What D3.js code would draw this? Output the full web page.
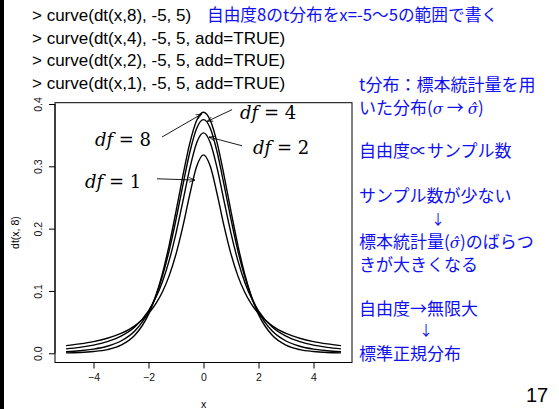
<!DOCTYPE html>
<html>
<head>
<meta charset="utf-8">
<script src="https://cdn.jsdelivr.net/npm/d3@7"></script>
<style>
  body { margin: 0; background: #fff; }
  svg { display: block; }
</style>
</head>
<body>
<svg id="slide" width="559" height="409"></svg>
<script>
// x grid of the curves
const xs = [-5, -4.5, -4, -3.5, -3, -2.5, -2, -1.75, -1.5, -1.25, -1, -0.75, -0.5, -0.25, 0,
  0.25, 0.5, 0.75, 1, 1.25, 1.5, 1.75, 2, 2.5, 3, 3.5, 4, 4.5, 5]

// density values, one list per curve
const df8 = [0.0007, 0.0013, 0.0028, 0.0059, 0.0130, 0.0288, 0.0624, 0.0899, 0.1268, 0.1733, 0.2276, 0.2848, 0.3367, 0.3734, 0.3867,
  0.3734, 0.3367, 0.2848, 0.2276, 0.1733, 0.1268, 0.0899, 0.0624, 0.0288, 0.0130, 0.0059, 0.0028, 0.0013, 0.0007]
const df4 = [0.0027, 0.0041, 0.0067, 0.0113, 0.0197, 0.0357, 0.0663, 0.0905, 0.1229, 0.1644, 0.2147, 0.2699, 0.3222, 0.3608, 0.3750,
  0.3608, 0.3222, 0.2699, 0.2147, 0.1644, 0.1229, 0.0905, 0.0663, 0.0357, 0.0197, 0.0113, 0.0067, 0.0041, 0.0027]
const df2 = [0.0071, 0.0095, 0.0131, 0.0186, 0.0274, 0.0422, 0.0680, 0.0878, 0.1141, 0.1487, 0.1925, 0.2438, 0.2963, 0.3376, 0.3536,
  0.3376, 0.2963, 0.2438, 0.1925, 0.1487, 0.1141, 0.0878, 0.0680, 0.0422, 0.0274, 0.0186, 0.0131, 0.0095, 0.0071]
const df1 = [0.0122, 0.0150, 0.0187, 0.0241, 0.0318, 0.0439, 0.0637, 0.0784, 0.0979, 0.1242, 0.1592, 0.2037, 0.2546, 0.2996, 0.3183,
  0.2996, 0.2546, 0.2037, 0.1592, 0.1242, 0.0979, 0.0784, 0.0637, 0.0439, 0.0318, 0.0241, 0.0187, 0.0150, 0.0122]
const series = [df8, df4, df2, df1]

const xTicks = [-4, -2, 0, 2, 4]
const yTicks = [0, 0.1, 0.2, 0.3, 0.4]

// curve labels: [label number, label x, label y, arrow from x,y, arrow to x,y] in data units
const labels = [
  ["8", -3.95, 0.333, -1.51, 0.347, -0.06, 0.384],
  ["4", 1.33, 0.376, 1.04, 0.391, 0.13, 0.372],
  ["2", 1.80, 0.320, 1.40, 0.333, 0.20, 0.347],
  ["1", -4.31, 0.265, -1.69, 0.280, -0.31, 0.278]
]

const commands = [
  "> curve(dt(x,8), -5, 5)",
  "> curve(dt(x,4), -5, 5, add=TRUE)",
  "> curve(dt(x,2), -5, 5, add=TRUE)",
  "> curve(dt(x,1), -5, 5, add=TRUE)"
]

const svg = d3.select("#slide")
const blue = "#1010f0"

// black edge on the left of the slide
svg.append("rect").attr("x", 0).attr("y", 0).attr("width", 4).attr("height", 409).attr("fill", "#000")

// R commands
svg.selectAll(".cmd")
  .data(commands)
  .enter().append("text")
  .attr("class", "cmd")
  .attr("x", 32)
  .attr("y", (d, i) => 21 + i * 22.7)
  .style("font-family", "'Liberation Sans', Arial, sans-serif")
  .style("font-size", "17px")
  .attr("fill", "#000")
  .text(d => d)

svg.append("text")
  .attr("x", 207).attr("y", 21)
  .style("font-family", "'Noto Sans CJK JP', sans-serif")
  .style("font-size", "16.7px")
  .attr("fill", blue)
  .text("自由度8のt分布をx=-5～5の範囲で書く")

const x = d3.scaleLinear().domain([-5.4, 5.4]).range([55, 352])
const y = d3.scaleLinear().domain([-0.0148, 0.4021]).range([362.5, 102.7])

const plot = svg.append("g")

plot.append("rect")
  .attr("x", x(-5.4)).attr("y", y(0.4021))
  .attr("width", x(5.4) - x(-5.4)).attr("height", y(-0.0148) - y(0.4021))
  .attr("fill", "none").attr("stroke", "#000").attr("stroke-width", 1)

const xAxis = plot.append("g")
  .attr("transform", `translate(0,${y(-0.0148)})`)
  .call(d3.axisBottom(x).tickValues(xTicks).tickSize(6).tickPadding(5).tickFormat(d3.format("d")))
const yAxis = plot.append("g")
  .attr("transform", `translate(${x(-5.4)},0)`)
  .call(d3.axisLeft(y).tickValues(yTicks).tickSize(6).tickPadding(5).tickFormat(d3.format(".1f")))

;[xAxis, yAxis].forEach(a => {
  a.select(".domain").attr("stroke", "#000")
  a.selectAll(".tick line").attr("stroke", "#000")
  a.selectAll("text")
    .style("font-family", "'Liberation Sans', Arial, sans-serif")
    .style("font-size", "10.5px")
    .attr("fill", "#111")
})
// R style: domain only between first and last tick
xAxis.select(".domain").attr("d", `M${x(-4)},0H${x(4)}`)
yAxis.select(".domain").attr("d", `M0,${y(0)}V${y(0.4)}`)
// rotated y tick labels
yAxis.selectAll(".tick text")
  .attr("x", null).attr("dy", null)
  .attr("text-anchor", "middle")
  .attr("transform", "translate(-13,0) rotate(-90)")

plot.append("text")
  .attr("x", x(0)).attr("y", 407.5)
  .attr("text-anchor", "middle")
  .style("font-family", "'Liberation Sans', Arial, sans-serif")
  .style("font-size", "10.5px")
  .text("x")
plot.append("text")
  .attr("transform", `translate(18.5,${(y(-0.0148) + y(0.4021)) / 2}) rotate(-90)`)
  .attr("text-anchor", "middle")
  .style("font-family", "'Liberation Sans', Arial, sans-serif")
  .style("font-size", "10.5px")
  .text("dt(x, 8)")

// curves
const line = d3.line()
  .x((d, i) => x(xs[i]))
  .y(d => y(d))
  .curve(d3.curveMonotoneX)

plot.selectAll(".curve")
  .data(series)
  .enter().append("path")
  .attr("class", "curve")
  .attr("d", line)
  .attr("fill", "none")
  .attr("stroke", "#000")
  .attr("stroke-width", 1.4)

// arrowhead
svg.append("defs").append("marker")
  .attr("id", "arr")
  .attr("viewBox", "0 0 10 10")
  .attr("refX", 10).attr("refY", 5)
  .attr("markerWidth", 6).attr("markerHeight", 6)
  .attr("markerUnits", "userSpaceOnUse")
  .attr("orient", "auto")
  .append("path").attr("d", "M0,1L10,5L0,9").attr("fill", "none").attr("stroke", "#000").attr("stroke-width", 1.2)

plot.selectAll(".arrow")
  .data(labels)
  .enter().append("line")
  .attr("class", "arrow")
  .attr("x1", d => x(d[3])).attr("y1", d => y(d[4]))
  .attr("x2", d => x(d[5])).attr("y2", d => y(d[6]))
  .attr("stroke", "#000").attr("stroke-width", 0.9)
  .attr("marker-end", "url(#arr)")

const lab = plot.selectAll(".dflab")
  .data(labels)
  .enter().append("text")
  .attr("class", "dflab")
  .attr("x", d => x(d[1])).attr("y", d => y(d[2]))
  .style("font-family", "'DejaVu Serif', serif")
  .style("font-size", "18px")
  .attr("xml:space", "preserve")
lab.append("tspan").style("font-style", "italic").text("df")
lab.append("tspan").text(d => " = " + d[0])

// notes on the right
const notes = [
  { t: "t分布：標本統計量を用", y: 90.5 },
  { t: "いた分布(|σ| → |σ̂|)", y: 113.5 },
  { t: "自由度∝サンプル数", y: 156.5 },
  { t: "サンプル数が少ない", y: 201.5 },
  { t: "↓", y: 224, cx: 438 },
  { t: "標本統計量(|σ̂|)のばらつ", y: 248 },
  { t: "きが大きくなる", y: 271 },
  { t: "自由度→無限大", y: 314.5 },
  { t: "↓", y: 335, cx: 426 },
  { t: "標準正規分布", y: 360 }
]

const note = svg.selectAll(".note")
  .data(notes)
  .enter().append("text")
  .attr("class", "note")
  .attr("x", d => d.cx || 359)
  .attr("y", d => d.y)
  .attr("text-anchor", d => d.cx ? "middle" : "start")
  .style("font-family", "'Noto Sans CJK JP', sans-serif")
  .style("font-size", d => d.cx ? "14px" : "17px")
  .attr("fill", blue)

note.each(function (d) {
  const parts = d.t.split("|")
  const el = d3.select(this)
  parts.forEach((p, i) => {
    const ts = el.append("tspan").text(p)
    if (i % 2 === 1) ts.style("font-family", "'DejaVu Serif', serif").style("font-style", "italic").style("font-size", "15px")
  })
})

// page number
svg.append("text")
  .attr("x", 537).attr("y", 402)
  .attr("text-anchor", "middle")
  .style("font-family", "'Liberation Sans', Arial, sans-serif")
  .style("font-size", "20px")
  .text("17")
</script>
</body>
</html>
